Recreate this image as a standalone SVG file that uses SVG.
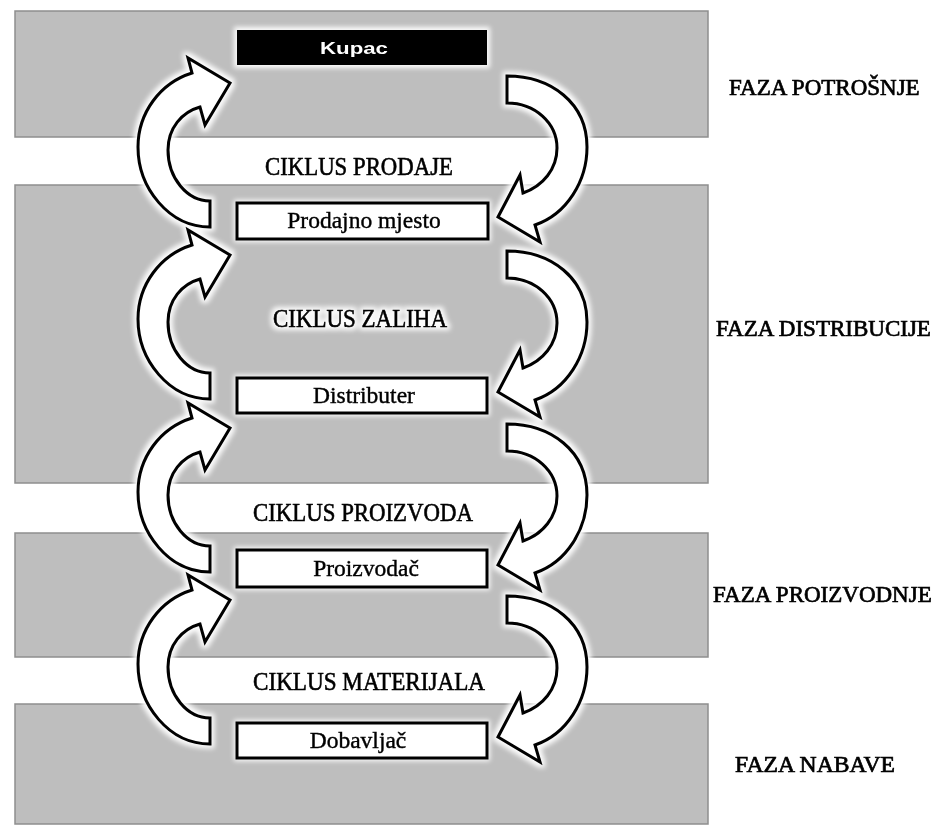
<svg xmlns="http://www.w3.org/2000/svg" xmlns:xlink="http://www.w3.org/1999/xlink" width="936" height="828" viewBox="0 0 936 828">
<style>
.band{fill:#bebebe;stroke:#8e8e8e;stroke-width:1.5}
.box{fill:#fff;stroke:#000;stroke-width:3}
.ntext{font-family:"Liberation Serif","Times New Roman",serif;font-size:23.5px;fill:#000;stroke:#000;stroke-width:0.4;text-anchor:middle}
.cyc{font-family:"Liberation Serif","Times New Roman",serif;font-size:26px;fill:#000;stroke:#000;stroke-width:0.6;text-anchor:middle}
.phase{font-family:"Liberation Serif","Times New Roman",serif;font-size:23px;fill:#000;stroke:#000;stroke-width:0.7}
.arrow{fill:#fff;stroke:#000;stroke-width:3;stroke-linejoin:miter}
</style>
<defs>
<filter id="glow" x="-20%" y="-20%" width="140%" height="140%">
<feMorphology in="SourceAlpha" operator="dilate" radius="3" result="d"/>
<feGaussianBlur in="d" stdDeviation="2.5" result="b"/>
<feFlood flood-color="#fff" flood-opacity="0.95"/>
<feComposite in2="b" operator="in"/>
</filter>
<path id="arrowL" class="arrow" d="M192,73 C160,83 138,113 138,147 C138,188 169,227 210,227 L210,201 C187,201 168,178 168,150 C168,128 182,112 200,107 L205,125 L230,83 L188,58 Z"/>
<path id="arrowR" class="arrow" d="M507,76 C551,76 587,103 587,147 C587,181 567,214 535,225 L540,242 L498,217 L520,175 L523,193 C543,186 557,169 557,148 C557,123 535,103 507,103 Z"/>
</defs>
<rect width="936" height="828" fill="#fff"/>
<g id="bands">
<rect class="band" x="15" y="11" width="693" height="126"/>
<rect class="band" x="15" y="185" width="693" height="298"/>
<rect class="band" x="15" y="533" width="693" height="124"/>
<rect class="band" x="15" y="704" width="693" height="120"/>
</g>
<g id="halos" filter="url(#glow)">
<use xlink:href="#arrowL"/>
<use xlink:href="#arrowL" y="172"/>
<use xlink:href="#arrowL" y="345"/>
<use xlink:href="#arrowL" y="517"/>
<use xlink:href="#arrowR"/>
<use xlink:href="#arrowR" y="175"/>
<use xlink:href="#arrowR" y="348"/>
<use xlink:href="#arrowR" y="520"/>
<rect x="237" y="30" width="250" height="35"/>
<rect x="237" y="203" width="251" height="36"/>
<rect x="237" y="378" width="250" height="35"/>
<rect x="237" y="550" width="250" height="37"/>
<rect x="237" y="723" width="250" height="35"/>
<text class="cyc" x="360" y="327" textLength="174" lengthAdjust="spacingAndGlyphs">CIKLUS ZALIHA</text>
</g>
<g id="connectors">
<use xlink:href="#arrowL"/>
<use xlink:href="#arrowL" y="172"/>
<use xlink:href="#arrowL" y="345"/>
<use xlink:href="#arrowL" y="517"/>
<use xlink:href="#arrowR"/>
<use xlink:href="#arrowR" y="175"/>
<use xlink:href="#arrowR" y="348"/>
<use xlink:href="#arrowR" y="520"/>
</g>
<g id="kupac">
<rect x="237" y="30" width="250" height="35" fill="#000"/>
<text x="354" y="54" font-family="'Liberation Sans',Arial,sans-serif" font-size="17" font-weight="bold" fill="#fff" text-anchor="middle" textLength="68" lengthAdjust="spacingAndGlyphs">Kupac</text>
</g>
<g id="prodajno-mjesto">
<rect class="box" x="237" y="203" width="251" height="36"/>
<text class="ntext" x="364" y="228">Prodajno mjesto</text>
</g>
<g id="distributer">
<rect class="box" x="237" y="378" width="250" height="35"/>
<text class="ntext" x="364" y="403">Distributer</text>
</g>
<g id="proizvodac">
<rect class="box" x="237" y="550" width="250" height="37"/>
<text class="ntext" x="366" y="576">Proizvodač</text>
</g>
<g id="dobavljac">
<rect class="box" x="237" y="723" width="250" height="35"/>
<text class="ntext" x="358" y="748">Dobavljač</text>
</g>
<g id="ciklus-prodaje"><text class="cyc" x="359" y="175" textLength="188" lengthAdjust="spacingAndGlyphs">CIKLUS PRODAJE</text></g>
<g id="ciklus-zaliha"><text class="cyc" x="360" y="327" textLength="174" lengthAdjust="spacingAndGlyphs">CIKLUS ZALIHA</text></g>
<g id="ciklus-proizvoda"><text class="cyc" x="363" y="521" textLength="220" lengthAdjust="spacingAndGlyphs">CIKLUS PROIZVODA</text></g>
<g id="ciklus-materijala"><text class="cyc" x="369" y="690" textLength="232" lengthAdjust="spacingAndGlyphs">CIKLUS MATERIJALA</text></g>
<g id="faza-potrosnje"><text class="phase" x="729" y="95">FAZA POTROŠNJE</text></g>
<g id="faza-distribucije"><text class="phase" x="716" y="336">FAZA DISTRIBUCIJE</text></g>
<g id="faza-proizvodnje"><text class="phase" x="713" y="602">FAZA PROIZVODNJE</text></g>
<g id="faza-nabave"><text class="phase" x="735" y="772" textLength="160" lengthAdjust="spacingAndGlyphs">FAZA NABAVE</text></g>
</svg>
